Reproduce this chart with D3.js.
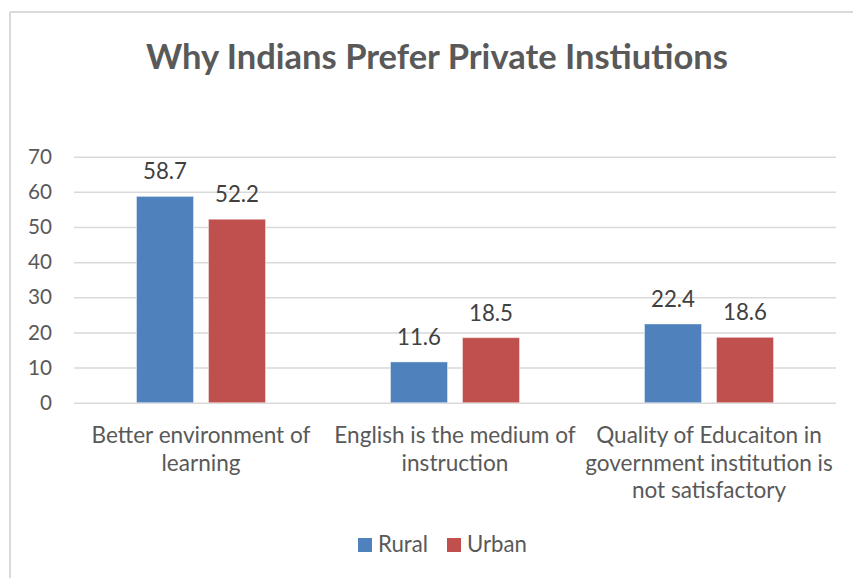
<!DOCTYPE html>
<html>
<head>
<meta charset="utf-8">
<script src="https://cdn.jsdelivr.net/npm/d3@7"></script>
<style>
  html, body { margin: 0; padding: 0; background: #fff; }
  svg { display: block; }
  text { font-family: Lato, "Open Sans", sans-serif; }
</style>
</head>
<body>
<svg id="chart" width="853" height="578"></svg>
<script>
const title = "Why Indians Prefer Private Instiutions";
const categories = [
  ["Better environment of", "learning"],
  ["English is the medium of", "instruction"],
  ["Quality of Educaiton in", "government institution is", "not satisfactory"]
];
const seriesNames = ["Rural", "Urban"];
const rural = [58.7, 11.6, 22.4];
const urban = [52.2, 18.5, 18.6];
const yTicks = [0, 10, 20, 30, 40, 50, 60, 70];
const colors = ["#4F81BD", "#C0504D"];

const svg = d3.select("#chart");
const W = 853, H = 578;
const plot = { left: 74, right: 836, top: 156.7, bottom: 402.7 };

svg.append("line").attr("x1", 10).attr("x2", 10).attr("y1", 12).attr("y2", H)
  .attr("stroke", "#D9D9D9").attr("stroke-width", 2);
svg.append("line").attr("x1", 10).attr("x2", W).attr("y1", 12).attr("y2", 12)
  .attr("stroke", "#D9D9D9").attr("stroke-width", 2);

function fitAll(sel, refNode, target) {
  const w = refNode.getComputedTextLength();
  const fs = parseFloat(d3.select(refNode).attr("font-size"));
  sel.attr("font-size", fs * target / w);
}

const t = svg.append("text").attr("x", 437).attr("y", 69)
  .attr("text-anchor", "middle").attr("font-size", 28).attr("font-weight", "bold")
  .attr("fill", "#595959").text(title);
fitAll(t, t.node(), 582);

const idx = d3.range(categories.length);
const x0 = d3.scaleBand().domain(idx).range([plot.left, plot.right]).paddingInner(0).paddingOuter(0);
const groupW = 129;
const x1 = d3.scaleBand().domain(seriesNames).range([0, groupW]).paddingInner(15 / 72).paddingOuter(0);
const y = d3.scaleLinear().domain([0, 70]).range([plot.bottom, plot.top]);

const yAxis = d3.axisLeft(y).tickValues(yTicks).tickSize(-(plot.right - plot.left)).tickPadding(22);
const ga = svg.append("g").attr("transform", `translate(${plot.left},0)`).call(yAxis);
ga.select(".domain").remove();
ga.selectAll(".tick line").attr("stroke", "#D9D9D9").attr("stroke-width", 1.5);
const tickTexts = ga.selectAll(".tick text").attr("fill", "#595959").attr("font-size", 17)
  .style("font-family", "Lato, sans-serif");
fitAll(tickTexts, tickTexts.nodes()[7], 24);

const data = idx.map(i => ({ i, vals: [rural[i], urban[i]] }));
const groups = svg.append("g").selectAll("g").data(data).join("g")
  .attr("transform", d => `translate(${x0(d.i) + (x0.bandwidth() - groupW) / 2},0)`);

groups.selectAll("rect").data(d => d.vals.map((v, k) => ({ v, k })))
  .join("rect")
  .attr("x", d => x1(seriesNames[d.k]))
  .attr("width", x1.bandwidth())
  .attr("y", d => y(d.v))
  .attr("height", d => y(0) - y(d.v))
  .attr("fill", d => colors[d.k])
  .attr("stroke", "#ffffff").attr("stroke-opacity", 0.4).attr("stroke-width", 1);

const lbls = groups.selectAll("text.lbl").data(d => d.vals.map((v, k) => ({ v, k })))
  .join("text").attr("class", "lbl")
  .attr("x", d => x1(seriesNames[d.k]) + x1.bandwidth() / 2)
  .attr("y", d => y(d.v) - 17)
  .attr("text-anchor", "middle").attr("font-size", 17).attr("fill", "#404040")
  .text(d => d.v.toFixed(1));
fitAll(lbls, lbls.nodes()[0], 44);

const cg = svg.append("g");
categories.forEach((lines, i) => {
  lines.forEach((ln, j) => {
    cg.append("text")
      .attr("x", x0(i) + x0.bandwidth() / 2)
      .attr("y", 443 + j * 27.5)
      .attr("text-anchor", "middle").attr("font-size", 17.5).attr("fill", "#595959")
      .text(ln);
  });
});
const catTexts = cg.selectAll("text");
fitAll(catTexts, catTexts.nodes()[0], 219);

const leg = svg.append("g");
const legItems = [{ x: 358, name: seriesNames[0], c: colors[0] }, { x: 447, name: seriesNames[1], c: colors[1] }];
legItems.forEach(it => {
  leg.append("rect").attr("x", it.x).attr("y", 538).attr("width", 14).attr("height", 14).attr("fill", it.c);
  leg.append("text").attr("x", it.x + 20).attr("y", 551.5).attr("font-size", 17.5)
    .attr("fill", "#595959").text(it.name);
});
const legTexts = leg.selectAll("text");
fitAll(legTexts, legTexts.nodes()[0], 50);
</script>
</body>
</html>
